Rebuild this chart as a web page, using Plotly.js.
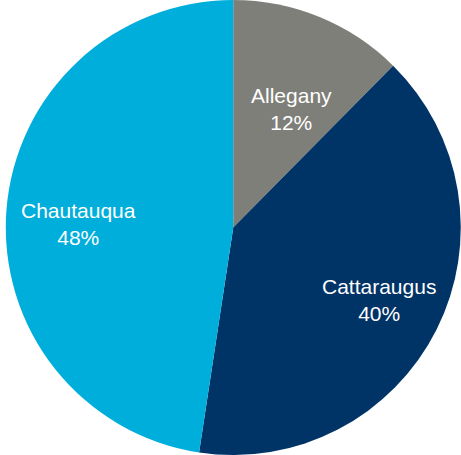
<!DOCTYPE html>
<html>
<head>
<meta charset="utf-8">
<script src="https://cdn.plot.ly/plotly-3.0.1.min.js"></script>
<style>html,body{margin:0;padding:0;background:#fff;}#chart{width:461px;height:455px;}</style>
</head>
<body>
<div id="chart"></div>
<script>
const counties = ["Allegany", "Cattaraugus", "Chautauqua"];
const shares = [12.4, 40.0, 47.6];
const sliceColors = ["#7f7f7a", "#003366", "#00aedb"];

// label placement (layout only): fraction of radius and angular nudge in degrees
const labelRadius = [0.58, 0.715, 0.68];
const labelAngleShift = [3.7, 0, -3];

const W = 461, H = 455;
const domX = [0.012, 1];
const cx = (domX[0] + domX[1]) / 2 * W;
const cy = H / 2;
const R = Math.min((domX[1] - domX[0]) * W, H) / 2;

const total = shares.reduce((a, b) => a + b, 0);
let cum = 0;
const annotations = shares.map((v, i) => {
  const frac = v / total;
  const mid = (cum + frac / 2) * 360 + labelAngleShift[i];
  cum += frac;
  const a = mid * Math.PI / 180;
  const r = labelRadius[i] * R;
  const px = cx + r * Math.sin(a);
  const py = cy - r * Math.cos(a);
  return {
    xref: "paper", yref: "paper",
    x: px / W, y: 1 - py / H,
    xanchor: "center", yanchor: "middle",
    showarrow: false,
    text: counties[i] + "<br>" + Math.round(frac * 100) + "%",
    font: {family: "Liberation Sans, Arial, sans-serif", size: 21, color: "#ffffff"}
  };
});

Plotly.newPlot("chart", [{
  type: "pie",
  labels: counties,
  values: shares,
  sort: false,
  direction: "clockwise",
  rotation: 0,
  marker: {colors: sliceColors, line: {width: 0}},
  textinfo: "none",
  hoverinfo: "none",
  domain: {x: domX, y: [0, 1]}
}], {
  width: W,
  height: H,
  margin: {l: 0, r: 0, t: 0, b: 0},
  showlegend: false,
  paper_bgcolor: "#ffffff",
  annotations: annotations
}, {displayModeBar: false, staticPlot: true});
</script>
</body>
</html>
